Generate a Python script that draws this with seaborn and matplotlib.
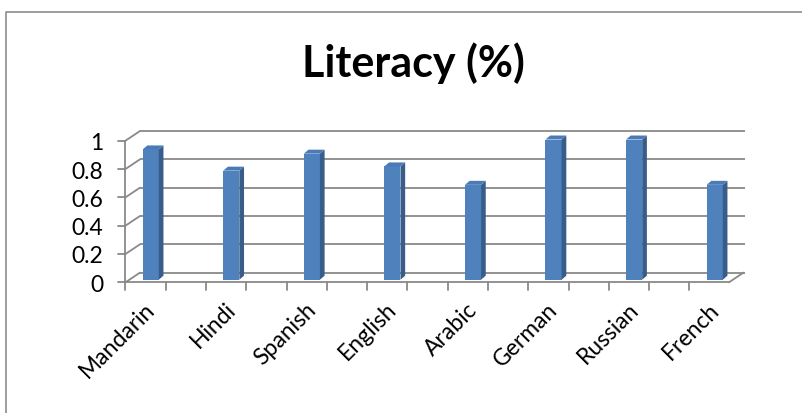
import matplotlib
matplotlib.use("Agg")
import matplotlib.pyplot as plt
import pandas as pd
import seaborn as sns
from matplotlib.patches import Polygon
from matplotlib.lines import Line2D

languages = ["Mandarin", "Hindi", "Spanish", "English", "Arabic", "German", "Russian", "French"]
literacy = [0.92, 0.77, 0.89, 0.80, 0.67, 0.99, 0.99, 0.67]
y_ticks = [0, 0.2, 0.4, 0.6, 0.8, 1.0]
y_tick_labels = ["0", "0.2", "0.4", "0.6", "0.8", "1"]
chart_title = "Literacy (%)"

W, H, DPI = 803, 414, 100
# Front plane of the pseudo-3D box, in pixels from the top-left corner:
# category i is centred at X0 + i*STEP, value v sits at BASE - v*UNIT.
X0, STEP, BASE, UNIT = 146.7, 80.57, 283.3, 141.6

FRONT_BLUE = "#4F81BD"
SIDE_BLUE = "#385D8A"
TOP_BLUE = "#4A7BB7"
GRID = "#898989"
LABEL_SIZE = 16.5

sns.set_theme(style="white")
plt.rcParams["font.family"] = ["Lato", "DejaVu Sans"]

fig = plt.figure(figsize=(W / DPI, H / DPI), dpi=DPI)
ax = fig.add_axes([0, 0, 1, 1])

df = pd.DataFrame({"language": languages, "literacy": literacy})
sns.barplot(data=df, x="language", y="literacy", ax=ax, width=0.2,
            color=FRONT_BLUE, saturation=1, edgecolor="none", linewidth=0,
            zorder=3)

ax.set_xlim(-X0 / STEP, (W - X0) / STEP)
ax.set_ylim((BASE - H) / UNIT, BASE / UNIT)
ax.axis("off")


def off(dx, dy):
    """Pixel offset (right, up) expressed in data units."""
    return dx / STEP, dy / UNIT


n = len(languages)
left_edge = (125.5 - X0) / STEP
right_edge = n - 1 + (729 - X0 - 7 * STEP) / STEP
bx, by = off(14.5, 9.7)          # depth of the back wall
lw_grid = 1.3

# back wall gridlines, left-wall diagonals, y ticks and their labels
for v, lab in zip(y_ticks, y_tick_labels):
    ax.plot([left_edge + bx, right_edge + bx + off(2, 0)[0]], [v + by, v + by],
            color=GRID, lw=lw_grid, zorder=1, solid_capstyle="butt")
    ax.plot([left_edge, left_edge + bx], [v, v + by], color=GRID, lw=lw_grid, zorder=1)
    ax.plot([left_edge - off(7, 0)[0], left_edge], [v, v], color=GRID, lw=lw_grid, zorder=4)
    ax.text(left_edge + off(-22, 0)[0], v - off(0, 2)[1], lab,
            ha="right", va="center", fontsize=LABEL_SIZE, color="black")

# front y-axis line
ax.plot([left_edge, left_edge], [0, 1], color=GRID, lw=lw_grid, zorder=4)

# floor: front edge and right diagonal
ax.plot([left_edge, right_edge], [0, 0], color=GRID, lw=lw_grid, zorder=4)
ax.plot([right_edge, right_edge + bx], [0, by], color=GRID, lw=lw_grid, zorder=4)

# category tick marks every half category along the front edge
tick_len = off(0, 8)[1]
k = 0
while left_edge + 0.5 * k <= right_edge + 1e-6:
    xt = left_edge + 0.5 * k
    ax.plot([xt, xt], [0, -tick_len], color=GRID, lw=lw_grid, zorder=4)
    k += 1

# give the seaborn bars depth: shift the front face back a little and add
# the dark side face and the top face
fx, fy = off(4, 2.6)
dx, dy = off(4.7, 4.0)
for p in ax.patches:
    x = p.get_x() + fx
    w = p.get_width()
    h = p.get_height()
    p.set_x(x)
    p.set_y(fy)
    y0 = fy
    side = Polygon([(x + w, y0), (x + w + dx, y0 + dy), (x + w + dx, y0 + h + dy), (x + w, y0 + h)],
                   closed=True, facecolor=SIDE_BLUE, edgecolor="none", zorder=3)
    top = Polygon([(x, y0 + h), (x + w, y0 + h), (x + w + dx, y0 + h + dy), (x + dx, y0 + h + dy)],
                  closed=True, facecolor=TOP_BLUE, edgecolor="none", zorder=3)
    ax.add_patch(side)
    ax.add_patch(top)

# rotated category labels
for i, name in enumerate(languages):
    ax.text(i + off(5, 0)[0], -off(0, 23)[1], name, rotation=45, rotation_mode="anchor",
            ha="right", va="center", fontsize=LABEL_SIZE, color="black")

# title
fig.text(413 / W, 1 - 77 / H, chart_title, ha="center", va="baseline",
         fontsize=31, fontweight="bold", color="black")

# chart-area border (left and top edges)
fig.add_artist(Line2D([6 / W, 6 / W, 1.0], [0.0, 1 - 12.7 / H, 1 - 12.7 / H],
                      transform=fig.transFigure, color="#8C8C8C", lw=1.2))

fig.savefig("out.png", dpi=DPI)
